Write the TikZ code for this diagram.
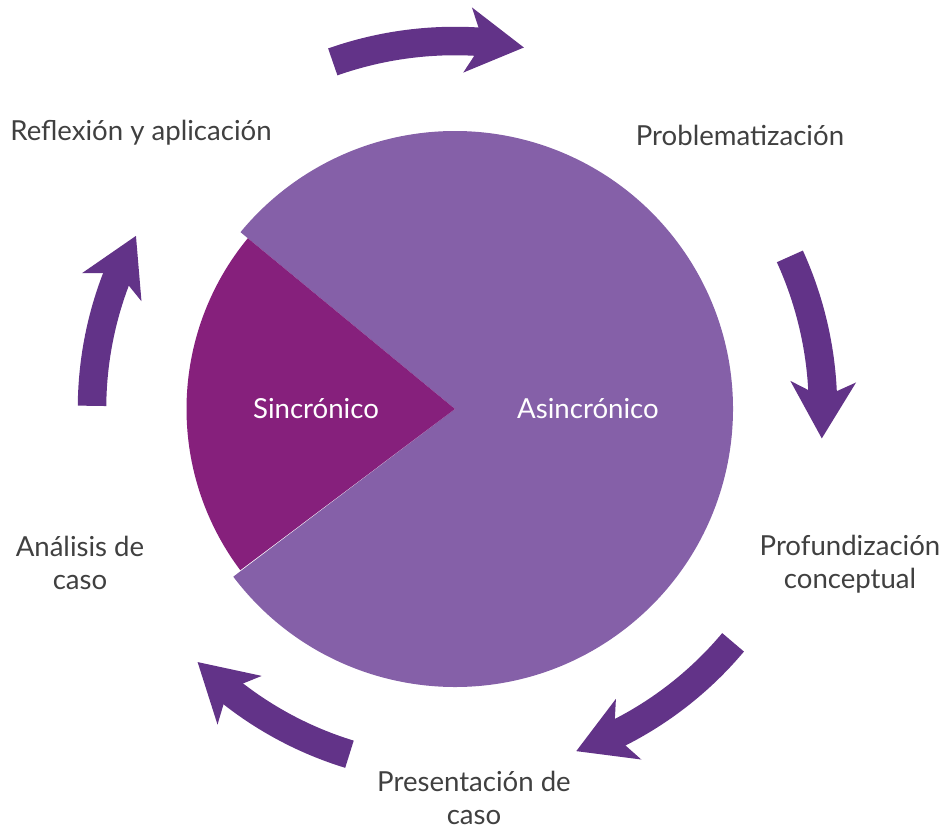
\documentclass[tikz,border=0pt]{standalone}
\usepackage{fontspec}
\setmainfont{Lato}
\usetikzlibrary{arrows.meta,bending}
\definecolor{asincro}{HTML}{8560A8}
\definecolor{sincro}{HTML}{86207C}
\definecolor{flechacol}{HTML}{623388}
\definecolor{texto}{HTML}{404040}
\def\cyclearrow(#1:#2:#3){\draw[flecha] (#1:#3) arc (#1:#2:#3);}
\tikzset{
  flecha/.style={flechacol, line width=0.57cm,
    -{Stealth[length=1.12cm, width=1.28cm, inset=0.3cm, flex]}},
  etiqueta/.style={texto, font=\fontsize{15.7}{18.5}\selectfont, align=center},
  dentro/.style={white, font=\fontsize{15.7}{18.5}\selectfont}
}
\begin{document}
\begin{tikzpicture}
				\useasboundingbox (-9.1,-8.4) rectangle (9.76,8.18);
				
				\fill[asincro] (0,0) -- (217.1:5.56) arc (217.1:500.5:5.56) -- cycle;
				\fill[sincro] (0,0) -- (140.5:5.37) arc (140.5:216.9:5.37) -- cycle;
				
				\node[dentro] (sincronico) at (-2.78,0) {Sincrónico};
				\node[dentro] (asincronico) at (2.66,0) {Asincrónico};
				
				\cyclearrow(109.4:79.2:7.36)
				\cyclearrow(24.5:-4.6:7.36)
				\cyclearrow(-40:-70.5:7.26)
				\cyclearrow(-107:-135.5:7.22)
				\cyclearrow(179.5:151.5:7.26)
				
				\node[etiqueta] (reflexion) at (-6.28,5.52) {Reflexión y aplicación};
				\node[etiqueta] (problema) at (5.7,5.48) {Problematización};
				\node[etiqueta] (profundiza) at (7.9,-3.1) {Profundización\\conceptual};
				\node[etiqueta] (presenta) at (0.38,-7.78) {Presentación de\\caso};
				\node[etiqueta] (analisis) at (-7.5,-3.08) {Análisis de\\caso};
\end{tikzpicture}
\end{document}
